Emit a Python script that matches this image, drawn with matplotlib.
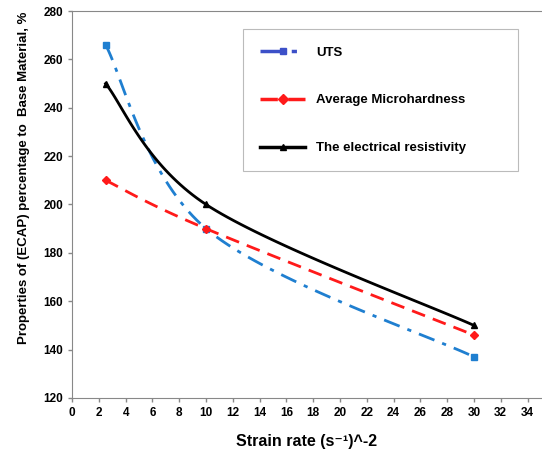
import numpy as np
import matplotlib.pyplot as plt

strain = [2.5, 10, 30]
uts = [266, 190, 137]
micro = [210, 190, 146]
resist = [250, 200, 150]

plt.rcParams['font.family'] = ['Liberation Sans', 'DejaVu Sans']


def smooth(x, y, n=40):
    # excel style bezier smoothing through the points
    p = np.column_stack([x, y]).astype(float)
    out = []
    for i in range(len(p) - 1):
        p0 = p[i - 1] if i > 0 else p[i]
        p3 = p[i + 2] if i + 2 < len(p) else p[i + 1]
        c1 = p[i] + (p[i + 1] - p0) / 6
        c2 = p[i + 1] - (p3 - p[i]) / 6
        t = np.linspace(0, 1, n)[:, None]
        seg = ((1 - t) ** 3 * p[i] + 3 * (1 - t) ** 2 * t * c1
               + 3 * (1 - t) * t ** 2 * c2 + t ** 3 * p[i + 1])
        out.append(seg)
    s = np.vstack(out)
    return s[:, 0], s[:, 1]


fig = plt.figure(figsize=(5.42, 4.59), dpi=100)
ax = fig.add_axes([0.133, 0.133, 0.865, 0.843])

series = [
    (uts, 'UTS', '#1f7fd0', (0, (6, 3, 1.5, 3)), 's', '#3c50c8'),
    (micro, 'Average Microhardness', '#ff1a1a', (0, (5, 3)), 'D', '#ff1a1a'),
    (resist, 'The electrical resistivity', 'black', '-', '^', 'black'),
]
for vals, name, col, ls, mk, lcol in series:
    sx, sy = smooth(strain, vals)
    ax.plot(sx, sy, color=col, ls=ls, lw=2)
    ax.plot(strain, vals, ls='none', marker=mk, ms=4, color=col)
    ax.plot([], [], color=lcol, ls=ls, lw=2.5, marker=mk, ms=5, label=name)

ax.set_xlim(0, 35)
ax.set_ylim(120, 280)
ax.set_xticks(range(0, 35, 2))
ax.set_yticks(range(120, 281, 20))
ax.tick_params(labelsize=8.5, length=3, color='#888888', width=1)
for lab in ax.get_xticklabels() + ax.get_yticklabels():
    lab.set_fontweight('bold')
for s in ['left', 'bottom', 'top']:
    ax.spines[s].set_color('#888888')
ax.spines['right'].set_visible(False)

ax.set_xlabel('Strain rate (s\u207b\u00b9)^-2', fontsize=11.5, fontweight='bold',
              labelpad=11)
ax.set_ylabel('Properties of (ECAP) percentage to  Base Material, %',
              fontsize=9.5, fontweight='bold')
ax.yaxis.set_label_coords(-0.09, 0.57)

leg = ax.legend(loc='upper left', bbox_to_anchor=(0.365, 0.607, 0.586, 0.346),
                mode='expand', borderaxespad=0,
                prop={'weight': 'bold', 'size': 9.5},
                labelspacing=2.7, handlelength=3.4, borderpad=1.3,
                fancybox=False, edgecolor='#bbbbbb', framealpha=1)
leg.get_frame().set_linewidth(0.8)

fig.savefig('out.png', dpi=100)
